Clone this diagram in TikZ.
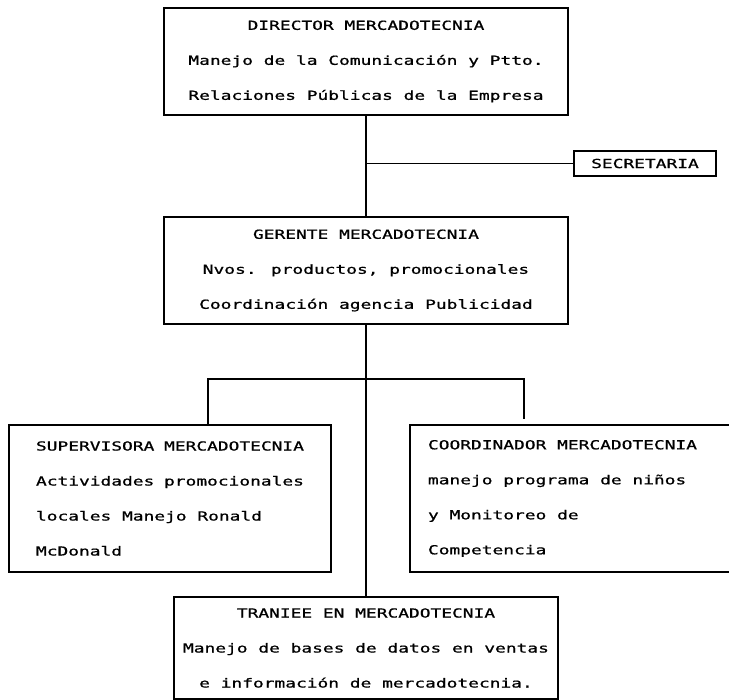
\documentclass[tikz,border=0pt]{standalone}
\usepackage{fontspec}
\newfontfamily\dotfont[FakeStretch=1.43,FakeBold=0.9]{DejaVu Sans Mono}
\usetikzlibrary{calc}

\begin{document}
\begin{tikzpicture}[x=1pt,y=-1pt,
  caja/.style={draw,line width=1.3pt,inner sep=0pt,align=center,
    font={\dotfont\fontsize{12.5}{35}\selectfont}},
  cajaizq/.style={caja,align=flush left},
  linea/.style={line width=1.1pt}]
\useasboundingbox (0,0) rectangle (729,700);
\clip (0,0) rectangle (729,700);
\path
(366,61.5) node[caja,minimum width=404pt,minimum height=107pt] (dir)
  {DIRECTOR MERCADOTECNIA\\Manejo de la Comunicación y Ptto.\\Relaciones Públicas de la Empresa}
+(0,209)   node[caja,minimum width=404pt,minimum height=107pt] (ger)
  {GERENTE MERCADOTECNIA\\Nvos. productos, promocionales\\Coordinación agencia Publicidad}
(645,163.5) node[caja,minimum width=142pt,minimum height=25pt] (sec) {SECRETARIA}
(170,498.5) node[cajaizq,text width=268pt,inner xsep=27pt,minimum height=147pt] (sup)
  {SUPERVISORA MERCADOTECNIA\\Actividades promocionales\\locales Manejo Ronald\\McDonald\\[-4pt]}
(589,498.5) node[cajaizq,text width=322pt,inner xsep=18pt,minimum height=147pt] (coo)
  {COORDINADOR MERCADOTECNIA\\manejo programa de niños\\y Monitoreo de\\Competencia\\[-4pt]}
(366,648)  node[caja,minimum width=384pt,minimum height=102pt] (tra)
  {TRANIEE EN MERCADOTECNIA\\Manejo de bases de datos en ventas\\e información de mercadotecnia.}
;
\coordinate (izq) at (208,379);
\coordinate (der) at (524,379);
\draw[linea] (dir)--(ger) (sec)--(sec -| dir) (ger)--(tra);
\draw[linea,shorten >=5pt] (sup.north -| izq) |- (der) -- (coo.north -| der);
\end{tikzpicture}
\end{document}
